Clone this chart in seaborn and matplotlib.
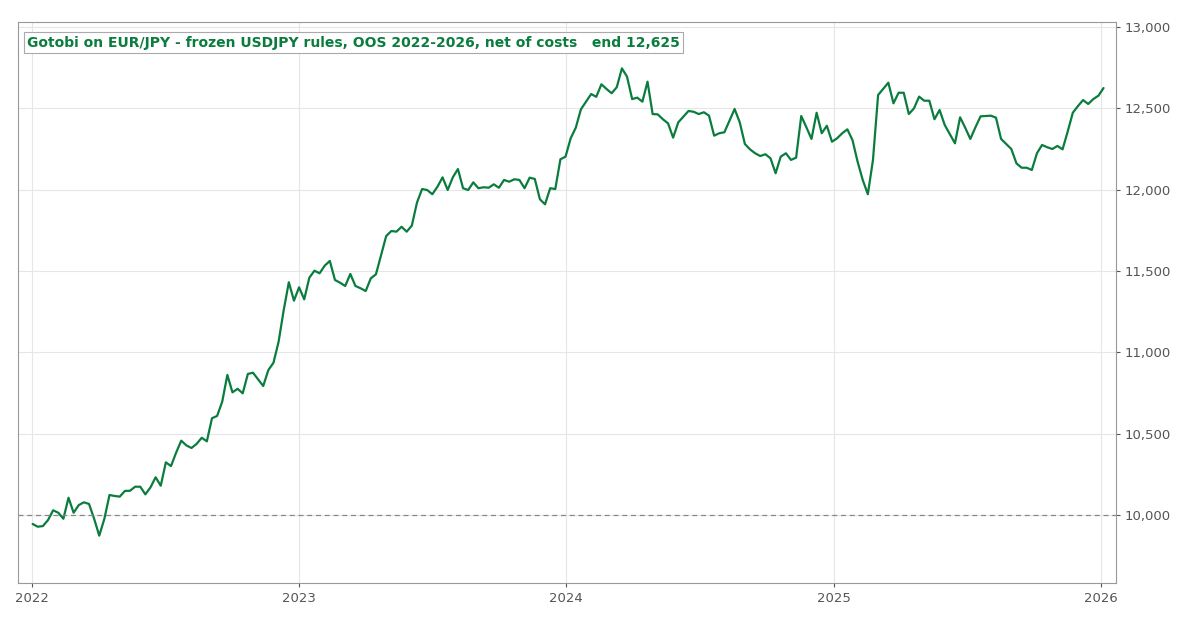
"""
Gotobi 策略在 EUR/JPY 上的样本外净值曲线 (2022-2026, 扣除成本)
"""
import pandas as pd
import numpy as np
import matplotlib
matplotlib.use('Agg')
import matplotlib.pyplot as plt
import matplotlib.dates as mdates
from matplotlib.ticker import FuncFormatter, MultipleLocator
import seaborn as sns

# ======================== 数据 (周度净值) ========================
START_DATE = '2022-01-02'

equity_2022a = [9945, 9928, 9932, 9969, 10029, 10014, 9977, 10106, 10014, 10061,
                10078, 10068, 9977, 9873, 9977, 10123, 10117, 10113, 10148, 10149,
                10174, 10174, 10127, 10170, 10232, 10180, 10324, 10301, 10383, 10457]
equity_2022b = [10428, 10412, 10437, 10475, 10453, 10595, 10609, 10697, 10861, 10754,
                10776, 10748, 10867, 10875, 10834, 10793, 10891, 10936, 11065, 11260,
                11431, 11318, 11400, 11326, 11459, 11502, 11486, 11533, 11562, 11445]
equity_2023a = [11428, 11408, 11482, 11408, 11394, 11377, 11455, 11480, 11598, 11715,
                11746, 11742, 11772, 11742, 11779, 11920, 12004, 11998, 11972, 12018,
                12076, 11998, 12076, 12127, 12009, 11998, 12045, 12009, 12015, 12012]
equity_2023b = [12033, 12012, 12060, 12049, 12064, 12060, 12009, 12074, 12066, 11941,
                11910, 12009, 12004, 12187, 12203, 12316, 12381, 12494, 12541, 12588,
                12571, 12648, 12619, 12593, 12630, 12746, 12695, 12557, 12566, 12541,
                12664]
equity_2024 = [12465, 12463, 12433, 12408, 12320, 12414, 12449, 12484, 12479, 12465,
               12476, 12455, 12332, 12347, 12353, 12424, 12496, 12414, 12281, 12248,
               12224, 12207, 12218, 12193, 12101, 12203, 12224, 12183, 12197, 12453]
equity_2025a = [12384, 12312, 12473, 12347, 12393, 12295, 12316, 12347, 12371, 12305,
                12172, 12060, 11972, 12183, 12582, 12620, 12658, 12531, 12596, 12596,
                12465, 12500, 12572, 12547, 12547, 12433, 12490, 12398, 12342, 12285]
equity_2025b = [12445, 12381, 12312, 12384, 12451, 12453, 12455, 12443, 12312, 12281,
                12250, 12162, 12135, 12135, 12121, 12224, 12275, 12261, 12250, 12269,
                12248, 12357, 12473, 12514, 12551, 12527, 12557, 12578, 12625]

equity = (equity_2022a + equity_2022b + equity_2023a + equity_2023b
          + equity_2024 + equity_2025a + equity_2025b)
START_EQUITY = 10000
TITLE = 'Gotobi on EUR/JPY - frozen USDJPY rules, OOS 2022-2026, net of costs   end 12,625'

df = pd.DataFrame({
    'date': pd.date_range(START_DATE, periods=len(equity), freq='7D'),
    'equity': equity,
})

# ======================== 绘图 ========================
sns.set_theme(style='whitegrid')
plt.rcParams['font.family'] = ['DejaVu Sans']

GREEN = '#0a7d3e'
fig = plt.figure(figsize=(12, 6.3), dpi=100)
ax = fig.add_axes([0.015, 0.0746, 0.915, 0.8905])

sns.lineplot(data=df, x='date', y='equity', color=GREEN, linewidth=1.6, ax=ax)
ax.axhline(START_EQUITY, color='#888888', linestyle='--', linewidth=0.9, dashes=(4, 3))

ax.set_xlim(pd.Timestamp('2021-12-13'), pd.Timestamp('2026-01-21'))
ax.set_ylim(9582, 13031)
ax.xaxis.set_major_locator(mdates.YearLocator())
ax.xaxis.set_major_formatter(mdates.DateFormatter('%Y'))
ax.yaxis.set_major_locator(MultipleLocator(500))
ax.yaxis.set_major_formatter(FuncFormatter(lambda v, _: f'{v:,.0f}'))
ax.yaxis.tick_right()
ax.set_xlabel('')
ax.set_ylabel('')

ax.grid(True, color='#e6e6e6', linewidth=0.8)
for s in ax.spines.values():
    s.set_color('#999999')
    s.set_linewidth(0.8)
ax.tick_params(axis='both', colors='#555555', labelsize=9.5, length=3,
               width=0.8, direction='out', bottom=True, right=True)

ax.text(0.0082, 0.9626, TITLE, transform=ax.transAxes, fontsize=10,
        fontweight='bold', color=GREEN, va='center', ha='left',
        bbox=dict(boxstyle='square,pad=0.25', facecolor='white',
                  edgecolor='#aaaaaa', linewidth=0.8))

plt.savefig('out.png', dpi=100)
plt.close()
